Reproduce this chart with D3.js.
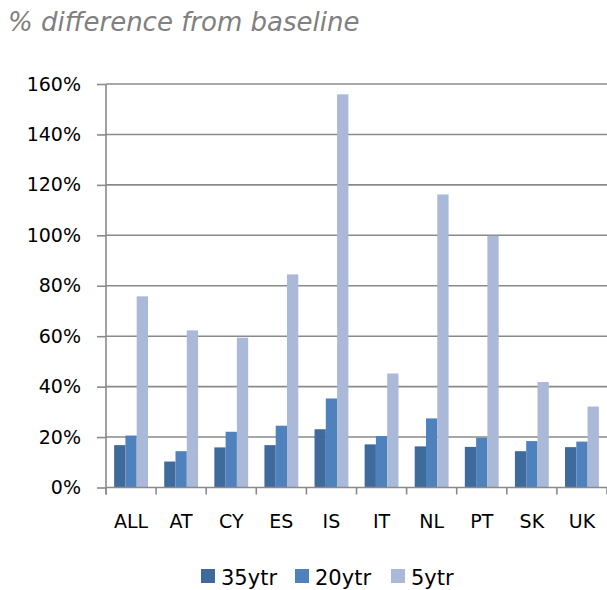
<!DOCTYPE html>
<html>
<head>
<meta charset="utf-8">
<script src="https://cdn.jsdelivr.net/npm/d3@7"></script>
<style>
  html, body { margin: 0; padding: 0; background: #fff; }
  svg { display: block; }
</style>
</head>
<body>
<svg id="chart" width="607" height="590"></svg>
<script>
const categories = ["ALL", "AT", "CY", "ES", "IS", "IT", "NL", "PT", "SK", "UK"];
const seriesNames = ["35ytr", "20ytr", "5ytr"];
const values35 = [16.8, 10.3, 15.9, 16.8, 23.1, 17.1, 16.3, 16.1, 14.4, 16.0];
const values20 = [20.6, 14.4, 22.1, 24.5, 35.3, 20.4, 27.4, 19.7, 18.4, 18.2];
const values5  = [75.8, 62.3, 59.4, 84.5, 155.9, 45.2, 116.2, 99.8, 41.8, 32.1];
const yTicks = [0, 20, 40, 60, 80, 100, 120, 140, 160];
const titleText = "% difference from baseline";

(function () {
const colors = { "35ytr": "#3F6A9C", "20ytr": "#4F81BD", "5ytr": "#AAB9D7" };
const seriesValues = { "35ytr": values35, "20ytr": values20, "5ytr": values5 };

const svg = d3.select("#chart");
const pLeft = 106, pRight = 607, pTop = 84, pBottom = 487.5;
const font = "'DejaVu Sans', sans-serif";
const gridColor = "#8a8a8a";

const x = d3.scaleBand().domain(categories).range([pLeft, pRight]).paddingInner(0).paddingOuter(0);
const xSub = d3.scaleBand().domain(seriesNames).range([0, x.bandwidth()]).paddingInner(0).paddingOuter(0.72);
const y = d3.scaleLinear().domain([0, 160]).range([pBottom, pTop]);

// title
svg.append("text")
  .attr("x", 8).attr("y", 31)
  .attr("font-family", font).attr("font-style", "italic")
  .attr("font-size", 26).attr("fill", "#808080")
  .text(titleText);

// gridlines
svg.append("g").selectAll("line").data(yTicks.filter(d => d > 0)).join("line")
  .attr("x1", pLeft).attr("x2", pRight)
  .attr("y1", d => y(d)).attr("y2", d => y(d))
  .attr("stroke", gridColor).attr("stroke-width", 1.6);

// bars
const rows = categories.map((c, i) => ({ c, vals: seriesNames.map(s => ({ s, v: seriesValues[s][i] })) }));
const groups = svg.append("g").selectAll("g").data(rows).join("g")
  .attr("transform", d => `translate(${x(d.c)},0)`);
groups.selectAll("rect").data(d => d.vals).join("rect")
  .attr("x", d => xSub(d.s)).attr("width", xSub.bandwidth())
  .attr("y", d => y(d.v)).attr("height", d => y(0) - y(d.v))
  .attr("fill", d => colors[d.s]);

// y axis
const yAxis = d3.axisLeft(y).tickValues(yTicks).tickFormat(d => d + "%").tickSize(9).tickPadding(16);
const gy = svg.append("g").attr("transform", `translate(${pLeft},0)`).call(yAxis);
gy.select(".domain").remove();
gy.selectAll(".tick line").attr("stroke", gridColor).attr("stroke-width", 1.6);
gy.selectAll(".tick text").attr("font-family", font).attr("font-size", 19).attr("fill", "#000");
svg.append("line").attr("x1", pLeft).attr("x2", pLeft).attr("y1", pTop).attr("y2", pBottom + 7)
  .attr("stroke", gridColor).attr("stroke-width", 1.6);

// x axis baseline and boundary ticks
svg.append("line").attr("x1", pLeft).attr("x2", pRight).attr("y1", pBottom).attr("y2", pBottom)
  .attr("stroke", gridColor).attr("stroke-width", 1.6);
const boundaries = categories.map(c => x(c)).concat([x(categories[categories.length - 1]) + x.bandwidth()]);
svg.append("g").selectAll("line").data(boundaries).join("line")
  .attr("x1", d => d).attr("x2", d => d).attr("y1", pBottom).attr("y2", pBottom + 7)
  .attr("stroke", gridColor).attr("stroke-width", 1.6);
svg.append("g").selectAll("text").data(categories).join("text")
  .attr("x", d => x(d) + x.bandwidth() / 2).attr("y", 528)
  .attr("text-anchor", "middle")
  .attr("font-family", font).attr("font-size", 19).attr("fill", "#000")
  .text(d => d);

// legend
const legendX = [201, 295, 391];
const lg = svg.append("g").selectAll("g").data(seriesNames).join("g")
  .attr("transform", (d, i) => `translate(${legendX[i]},569)`);
lg.append("rect").attr("width", 14).attr("height", 14).attr("fill", d => colors[d]);
lg.append("text").attr("x", 20).attr("y", 15.5)
  .attr("font-family", font).attr("font-size", 21).attr("fill", "#000")
  .text(d => d);
})();
</script>
</body>
</html>
